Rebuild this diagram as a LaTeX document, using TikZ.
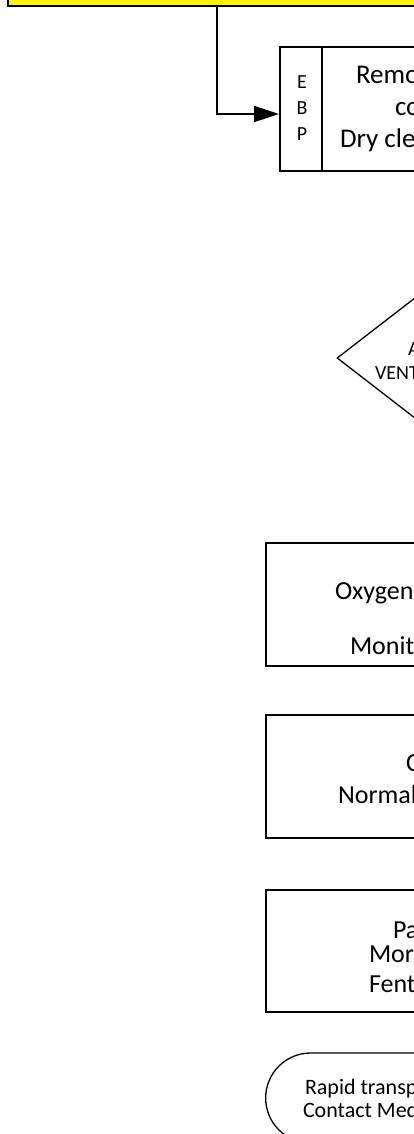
\documentclass[tikz,border=0pt]{standalone}
\usepackage{fontspec}
\setmainfont{Carlito}
\usetikzlibrary{arrows.meta,shapes.geometric,shapes.misc}
\begin{document}
\begin{tikzpicture}[x=1pt,y=-1pt,
  txt/.style={anchor=base west,inner sep=0pt,outer sep=0pt},
  ctxt/.style={anchor=base,inner sep=0pt,outer sep=0pt},
  boxe/.style={draw,line width=2pt,rectangle,inner sep=0pt,anchor=north west},
  conn/.style={line width=1.6pt,-{Triangle[length=25pt,width=16pt]}},
  f27/.style={font=\fontsize{27}{32}\selectfont},
  f26/.style={font=\fontsize{26}{31}\selectfont},
  f22/.style={font=\fontsize{22}{26}\selectfont},
  f20/.style={font=\fontsize{20}{24}\selectfont}]
\useasboundingbox (0,0) rectangle (414,1134);
% yellow header box
\node[draw,line width=2.2pt,fill=yellow,rectangle,anchor=south west,minimum width=600pt,minimum height=120pt,inner sep=0pt] (ybox) at (7,7) {};
% EBP box
\node[boxe,line width=2.4pt,minimum width=400pt,minimum height=124pt] (ebp) at (279,46) {};
\coordinate (div1) at (322,46);
\coordinate (div2) at (322,170);
\draw[line width=2.4pt] (div1) -- (div2);
\coordinate (c1) at (217,114);
\draw[conn] (ybox.south -| c1) -- (c1) -- (ebp.west |- c1);
\node[ctxt,f20] (le) at (302,89) {E};
\node[ctxt,f20] (lb) at (302,115) {B};
\node[ctxt,f20] (lp) at (302,141) {P};
\node[txt,f27] (t1) at (356,84) {Remo};
\node[txt,f27] (t2) at (395,116) {co};
\node[txt,f27] (t3) at (340,148) {Dry cle};
% diamond
\node[draw,line width=1.3pt,diamond,minimum width=300pt,minimum height=232pt,inner sep=0pt] (dec) at (487,358) {};
\node[txt,font=\fontsize{20}{24}\selectfont] (d1) at (408,355) {A};
\node[txt,font=\fontsize{20}{24}\selectfont] (d2) at (375,379) {VENT};
% oxygen box
\node[boxe,minimum width=400pt,minimum height=123pt] (b1) at (265,542) {};
\node[txt,f26] (b1a) at (335,599) {Oxygen};
\node[txt,f26] (b1b) at (350,654) {Monit};
% box 3
\node[boxe,minimum width=400pt,minimum height=123pt] (b2) at (265,714) {};
\node[txt,f26] (b2a) at (406,771) {C};
\node[txt,f26] (b2b) at (338,803) {Normal};
% box 4
\node[boxe,minimum width=400pt,minimum height=122pt] (b3) at (265,889) {};
\node[txt,f26] (b3a) at (393,938) {Pa};
\node[txt,f26] (b3b) at (369,962) {Mor};
\node[txt,f26] (b3c) at (369,992) {Fent};
% terminator
\node[draw,line width=1.3pt,rounded rectangle,rounded rectangle right arc=none,minimum height=90pt,minimum width=400pt,inner sep=0pt,anchor=west] (term) at (265,1098) {};
\node[txt,f22] (e1) at (305,1094) {Rapid transp};
\node[txt,f22] (e2) at (303,1117) {Contact Med};
\end{tikzpicture}
\end{document}
